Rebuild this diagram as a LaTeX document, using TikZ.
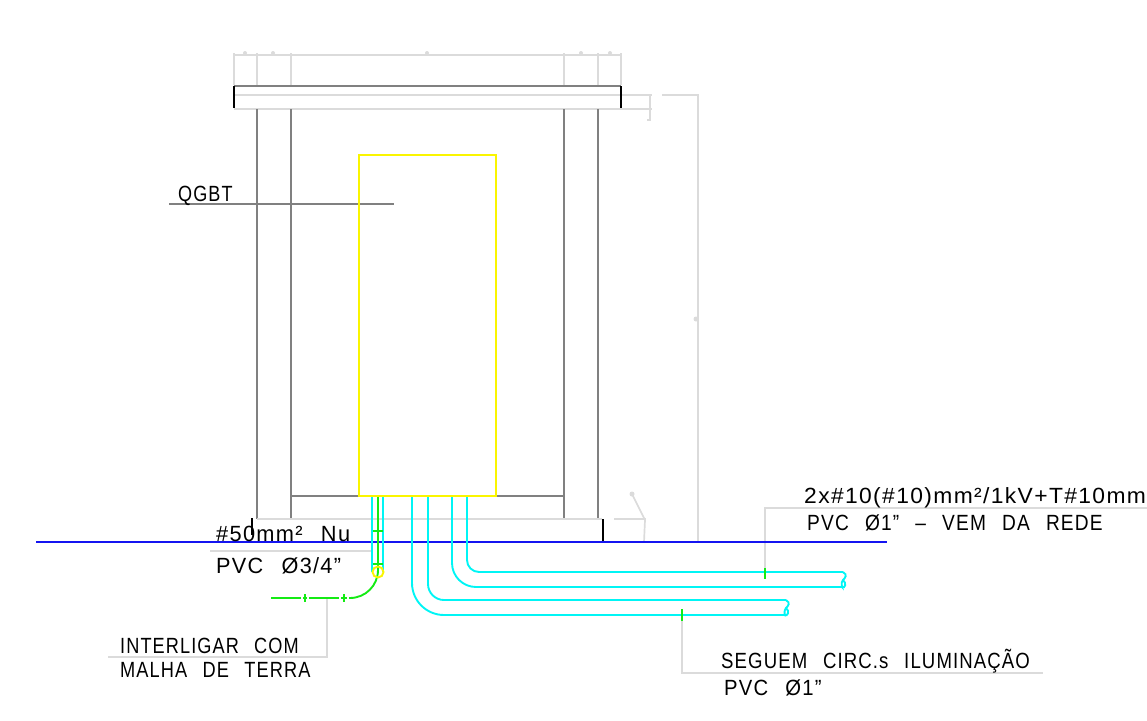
\documentclass[tikz,border=0pt]{standalone}
\usepackage{fontspec}
\setmainfont[LetterSpace=6,WordSpace=2.5]{Liberation Sans}
\usepackage{tikz}

\definecolor{pipecyan}{RGB}{0,245,245}
\definecolor{wiregreen}{RGB}{20,235,20}
\definecolor{panelyellow}{RGB}{250,245,0}
\definecolor{groundblue}{RGB}{20,20,240}

% text squeezed or stretched to the width of the drawing's own lettering
\newcommand{\wide}[2]{\scalebox{#1}[1]{#2}}

\tikzset{
  every node/.style = { anchor = base west, inner sep = 0pt, font = \fontsize{22}{22}\selectfont, text = black },
  pale/.style = { draw = black!14, line width = 1.7pt },
  dim/.style = { draw = black!50, line width = 1.6pt },
  pipe/.style = { draw = pipecyan, line width = 1.9pt },
  wire/.style = { draw = wiregreen, line width = 1.9pt },
  panel/.style = { draw = panelyellow, line width = 1.9pt }
}

\begin{document}
\begin{tikzpicture}[x = 1pt, y = -1pt]
    \useasboundingbox (0,0) rectangle (1147,720);

    % dimension lines round the roof
    \draw [pale] (234,55) -- (621,55);
    \foreach \px in {234,257,291,564,598,621}
      \draw [pale] (\px,53) -- (\px,85);
    \foreach \px in {245,273,427,581,610}
      \fill [black!14] (\px,53) circle (2);
    \draw [pale] (234,95) -- (652,95);
    \draw [pale] (234,109) -- (652,109);
    \draw [pale] (650,95) -- (650,120) -- (647,120);
    \draw [pale] (662,95) -- (698,95) -- (698,542);
    \fill [black!14] (696,319) circle (2.5);

    % roof and pillars
    \draw [dim] (234,86) -- (621,86);
    \draw [black, line width = 1.6pt] (234,86) -- (234,108);
    \draw [black, line width = 1.6pt] (621,86) -- (621,108);
    \foreach \px in {257,291,564,598}
      \draw [dim] (\px,109) -- (\px,519);
    \draw [dim] (291,496) -- (564,496);
    \draw [pale] (257,519) -- (602,519);
    \draw [black, line width = 1.6pt] (603,519) -- (603,542);
    \draw [black, line width = 1.6pt] (252,518) -- (252,535);

    % door latch
    \draw [pale] (632,494) -- (645,520) -- (644,542);
    \draw [pale] (614,519) -- (646,519);
    \fill [black!14] (632,494) circle (2.5);

    % leaders
    \draw [dim] (169,204) -- (394,204);
    \draw [pale] (210,551) -- (372,551);
    \draw [pale] (327,598) -- (327,657) -- (108,657);
    \draw [pale] (765,568) -- (765,508) -- (1147,508);
    \draw [pale] (682,621) -- (682,673) -- (1043,673);

    % ground line
    \draw [draw = groundblue, line width = 1.9pt] (36,542) -- (887,542);

    % conduits
    \draw [pipe] (372,497) -- (372,572);
    \draw [pipe] (383,497) -- (383,572);
    \draw [pipe] (412,497) -- (412,583) arc [start angle = 180, end angle = 90, radius = 32] -- (784,615);
    \draw [pipe] (428,497) -- (428,584) arc [start angle = 180, end angle = 90, radius = 16] -- (786,600);
    \draw [pipe] (452,497) -- (452,563) arc [start angle = 180, end angle = 90, radius = 24] -- (842,587);
    \draw [pipe] (467,497) -- (467,560) arc [start angle = 180, end angle = 90, radius = 12] -- (843,572);
    \draw [pipe] (843,572) .. controls (848,575) and (845,578) .. (843,580) .. controls (840,583) and (843,589) .. (842,587);
    \draw [pipe] (843,580) .. controls (847,583) and (845,589) .. (842,587);
    \draw [pipe] (786,600) .. controls (791,603) and (788,606) .. (786,608) .. controls (783,611) and (786,617) .. (784,615);
    \draw [pipe] (786,608) .. controls (790,611) and (788,617) .. (784,615);

    % earth wire
    \draw [wire] (378,497) -- (378,570) arc [start angle = 0, end angle = 90, radius = 28] -- (349,598);
    \foreach \xa/\xb in {271/301,303/307,309/339,341/347}
      \draw [wire] (\xa,598) -- (\xb,598);
    \foreach \py in {531,564}
      \draw [wire] (373,\py) -- (383,\py);
    \foreach \px in {305,344}
      \draw [wire] (\px,594) -- (\px,602);
    \draw [wire] (765,568) -- (765,579);
    \draw [wire] (682,609) -- (682,621);
    \draw [panel] (378,572) circle (5.5);

    % panel
    \draw [panel] (359,155) rectangle (496,496);

    % labels
    \node (qgbt) at (178,201) {\wide{.82}{QGBT}};
    \node (neutro) at (216,541) {\wide{.99}{\#50mm² Nu}};
    \node (duto) at (216,573) {\wide{.985}{PVC Ø3/4”}};
    \node (malha) at (120,653) {\wide{.825}{INTERLIGAR COM}};
    \node (terra) at (120,677) {\wide{.828}{MALHA DE TERRA}};
    \node (rede) at (804,503) {\wide{1.038}{2x\#10(\#10)mm²/1kV+T\#10mm}};
    \node (vem) at (807,530) {\wide{.87}{PVC Ø1” -- VEM DA REDE}};
    \node (circ) at (721,668) {\wide{.845}{SEGUEM CIRC.s ILUMINAÇÃO}};
    \node (ilum) at (724,695) {\wide{.92}{PVC Ø1”}};
\end{tikzpicture}
\end{document}
